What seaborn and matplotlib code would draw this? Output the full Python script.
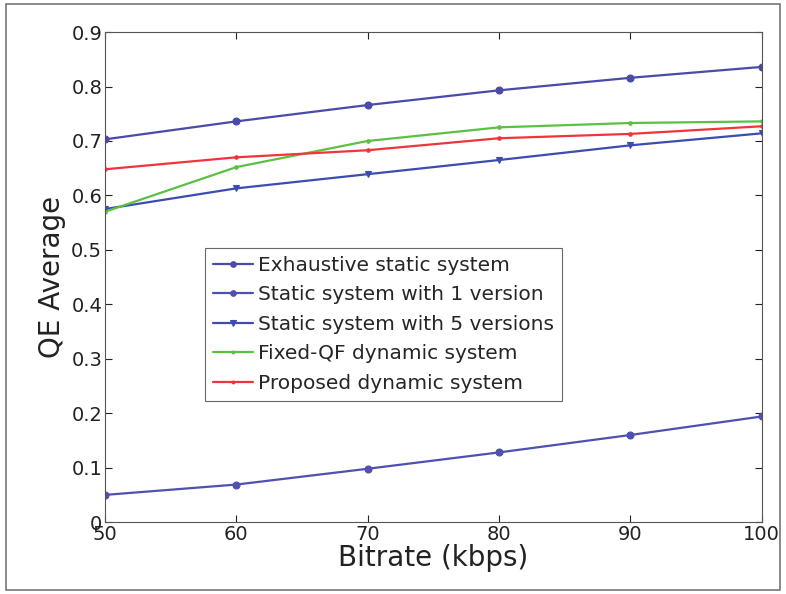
import matplotlib
matplotlib.use("Agg")
import matplotlib.pyplot as plt
import seaborn as sns
import pandas as pd
from matplotlib.patches import Rectangle

bitrate = [50, 60, 70, 80, 90, 100]
exhaustive = [0.703, 0.736, 0.766, 0.793, 0.816, 0.836]
static_1 = [0.050, 0.069, 0.098, 0.128, 0.160, 0.194]
static_5 = [0.575, 0.613, 0.639, 0.665, 0.692, 0.714]
fixed_qf = [0.570, 0.652, 0.700, 0.725, 0.733, 0.736]
proposed = [0.648, 0.670, 0.683, 0.705, 0.713, 0.727]

series_names = ["Exhaustive static system", "Static system with 1 version",
                "Static system with 5 versions", "Fixed-QF dynamic system",
                "Proposed dynamic system"]
series_values = [exhaustive, static_1, static_5, fixed_qf, proposed]

rows = []
for name, vals in zip(series_names, series_values):
    for b, v in zip(bitrate, vals):
        rows.append({"Bitrate": b, "QE": v, "System": name})
df = pd.DataFrame(rows)

sns.set_theme(style="white")
plt.rcParams['font.family'] = ['DejaVu Sans']

fig = plt.figure(figsize=(7.86, 5.94), dpi=100)
ax = fig.add_axes([0.1336, 0.121, 0.8354, 0.825])

palette = {
    "Exhaustive static system": "#4a4aa8",
    "Static system with 1 version": "#5050b0",
    "Static system with 5 versions": "#3c4cb0",
    "Fixed-QF dynamic system": "#5cc043",
    "Proposed dynamic system": "#f0343c",
}
markers = {
    "Exhaustive static system": "o",
    "Static system with 1 version": "o",
    "Static system with 5 versions": "v",
    "Fixed-QF dynamic system": ".",
    "Proposed dynamic system": ".",
}
sns.lineplot(data=df, x="Bitrate", y="QE", hue="System", style="System",
             palette=palette, markers=markers, dashes=False, linewidth=1.6,
             markersize=5, markeredgewidth=0.8, ax=ax,
             hue_order=series_names, style_order=series_names)
for line in ax.get_lines():
    line.set_markeredgecolor(line.get_color())

ax.set_xlim(50, 100)
ax.set_ylim(0, 0.9)
ax.set_xticks(bitrate)
ax.set_yticks([0, 0.1, 0.2, 0.3, 0.4, 0.5, 0.6, 0.7, 0.8, 0.9])
ax.set_yticklabels(["0", "0.1", "0.2", "0.3", "0.4", "0.5", "0.6", "0.7", "0.8", "0.9"])
ax.tick_params(direction="in", length=5, labelsize=14, colors="#222222", width=0.8, pad=2)
ax.tick_params(top=True, right=True, bottom=True, left=True, labeltop=False, labelright=False)
for s in ax.spines.values():
    s.set_color("#555555")
    s.set_linewidth(0.8)
ax.set_xlabel("Bitrate (kbps)", fontsize=20, color="#222222", labelpad=0)
ax.set_ylabel("QE Average", fontsize=20, color="#222222", labelpad=4)

leg = ax.legend(loc="upper left", bbox_to_anchor=(0.152, 0.56), fontsize=14.5,
                frameon=True, fancybox=False, edgecolor="#444444",
                handlelength=2.0, handletextpad=0.25, borderpad=0.4,
                labelspacing=0.52, borderaxespad=0)
leg.get_frame().set_linewidth(0.8)
for h in leg.get_lines():
    h.set_markersize(4)
    h.set_markeredgecolor(h.get_color())

fig.patches.append(Rectangle((0.008, 0.006), 0.984, 0.988, transform=fig.transFigure,
                             fill=False, edgecolor="#777777", linewidth=1.2))

fig.savefig("out.png", dpi=100)
